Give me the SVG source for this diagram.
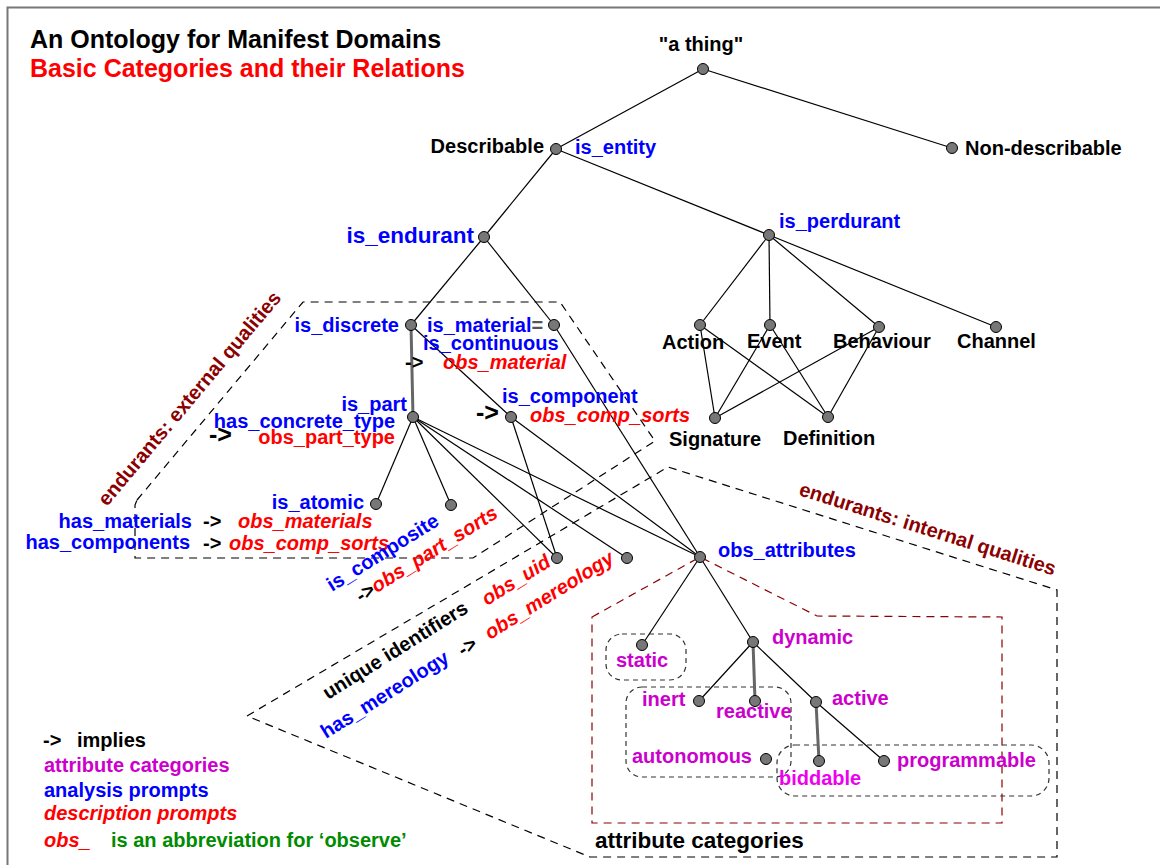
<svg xmlns="http://www.w3.org/2000/svg" width="1160" height="865" viewBox="0 0 1160 865">
<style>
text{font-family:"Liberation Sans",Arial,sans-serif;font-weight:bold;font-size:20px;fill:#000}
.b{fill:#0000ff}
.r{fill:#ff0000}
.ri{fill:#ff0000;font-style:italic}
.m{fill:#cc00cc}
.dr{fill:#8b0000}
.g{fill:#008b00}
.big{font-size:25px}
.arr{font-size:25px}
.e{stroke:#000;stroke-width:1.2;fill:none}
.t{stroke:#666;stroke-width:3;fill:none}
.n{fill:#777;stroke:#000;stroke-width:1}
.dp{fill:none;stroke:#000;stroke-width:1.2;stroke-dasharray:8,6}
.dpr{fill:none;stroke:#8b0000;stroke-width:1.2;stroke-dasharray:8,6}
.rb{fill:none;stroke:#333;stroke-width:1.2;stroke-dasharray:5,4}
</style>
<rect x="0" y="0" width="1160" height="865" fill="#fff"/>
<path d="M7.5,870 L7.5,7.5 L1170,7.5" fill="none" stroke="#777" stroke-width="2"/>

<g id="regions">
<path class="dp" d="M137,500 L303,302 L560,302 L655,441 L473,558 L135,558 L135,505 Z"/>
<path class="dp" d="M247,716 L668,467 L1057,590 L1057,857 L590,857 Z"/>
<path class="dpr" d="M592,617 L700,557 L817,616 L1002,617 L1002,823 L592,823 Z"/>
<rect class="rb" x="606" y="634" width="80" height="46" rx="16"/>
<rect class="rb" x="626" y="687" width="165" height="90" rx="16"/>
<rect class="rb" x="777" y="745" width="272" height="51" rx="18"/>
<text class="dr" transform="translate(107,507) rotate(-50)">endurants: external qualities</text>
<text class="dr" transform="translate(798,495) rotate(17.5)">endurants: internal qualities</text>
<text x="595" y="848" style="font-size:22.5px">attribute categories</text>
</g>

<g id="connectors">
<line class="e" x1="703" y1="69" x2="556" y2="149"/>
<line class="e" x1="703" y1="69" x2="952" y2="148"/>
<line class="e" x1="556" y1="149" x2="484" y2="237"/>
<line class="e" x1="556" y1="149" x2="769" y2="235"/>
<line class="e" x1="484" y1="237" x2="411" y2="325"/>
<line class="e" x1="484" y1="237" x2="554" y2="325"/>
<line class="e" x1="769" y1="235" x2="700" y2="325"/>
<line class="e" x1="769" y1="235" x2="770" y2="325"/>
<line class="e" x1="769" y1="235" x2="879" y2="327"/>
<line class="e" x1="769" y1="235" x2="996" y2="327"/>
<line class="e" x1="700" y1="325" x2="715" y2="418"/>
<line class="e" x1="700" y1="325" x2="828" y2="417"/>
<line class="e" x1="770" y1="325" x2="715" y2="418"/>
<line class="e" x1="770" y1="325" x2="828" y2="417"/>
<line class="e" x1="879" y1="327" x2="715" y2="418"/>
<line class="e" x1="879" y1="327" x2="828" y2="417"/>
<line class="t" x1="411" y1="325" x2="413" y2="417"/>
<line class="e" x1="411" y1="325" x2="511" y2="417"/>
<line class="e" x1="554" y1="325" x2="700" y2="557"/>
<line class="e" x1="413" y1="417" x2="376" y2="504"/>
<line class="e" x1="413" y1="417" x2="451" y2="505"/>
<line class="e" x1="413" y1="417" x2="557" y2="558"/>
<line class="e" x1="413" y1="417" x2="627" y2="558"/>
<line class="e" x1="413" y1="417" x2="700" y2="557"/>
<line class="e" x1="511" y1="417" x2="557" y2="558"/>
<line class="e" x1="511" y1="417" x2="700" y2="557"/>
<line class="e" x1="700" y1="557" x2="642" y2="645"/>
<line class="e" x1="700" y1="557" x2="753" y2="642"/>
<line class="e" x1="753" y1="642" x2="699" y2="701"/>
<line class="t" x1="753" y1="642" x2="755" y2="701"/>
<line class="e" x1="753" y1="642" x2="816" y2="702"/>
<line class="t" x1="816" y1="702" x2="819" y2="761"/>
<line class="e" x1="816" y1="702" x2="884" y2="761"/>
</g>

<g id="title">
<text class="big" x="30" y="48">An Ontology for Manifest Domains</text>
<text class="big r" x="30" y="77">Basic Categories and their Relations</text>
</g>

<g id="a_thing"><circle class="n" cx="703" cy="69" r="5.5"/><text x="701" y="51" text-anchor="middle">"a thing"</text></g>
<g id="describable"><circle class="n" cx="556" cy="149" r="5.5"/><text x="544" y="153" text-anchor="end">Describable</text><text class="b" x="575" y="154">is_entity</text></g>
<g id="non_describable"><circle class="n" cx="952" cy="148" r="5.5"/><text x="965" y="155">Non-describable</text></g>
<g id="is_endurant"><circle class="n" cx="484" cy="237" r="5.5"/><text class="b" x="474" y="243" text-anchor="end" style="font-size:22.5px">is_endurant</text></g>
<g id="is_perdurant"><circle class="n" cx="769" cy="235" r="5.5"/><text class="b" x="779" y="228">is_perdurant</text></g>
<g id="is_discrete"><circle class="n" cx="411" cy="325" r="5.5"/><text class="b" x="399" y="332" text-anchor="end">is_discrete</text></g>
<g id="is_material"><circle class="n" cx="554" cy="325" r="5.5"/><text class="b" x="427" y="332">is_material<tspan style="fill:#555">=</tspan></text><text class="b" x="423" y="350">is_continuous</text><text x="405" y="369">-&gt;</text><text class="ri" x="443" y="369">obs_material</text></g>
<g id="action"><circle class="n" cx="700" cy="325" r="5.5"/><text x="662" y="349">Action</text></g>
<g id="event"><circle class="n" cx="770" cy="325" r="5.5"/><text x="747" y="348">Event</text></g>
<g id="behaviour"><circle class="n" cx="879" cy="327" r="5.5"/><text x="833" y="348">Behaviour</text></g>
<g id="channel"><circle class="n" cx="996" cy="327" r="5.5"/><text x="957" y="348">Channel</text></g>
<g id="signature"><circle class="n" cx="715" cy="418" r="5.5"/><text x="669" y="446">Signature</text></g>
<g id="definition"><circle class="n" cx="828" cy="417" r="5.5"/><text x="783" y="445">Definition</text></g>
<g id="is_part"><circle class="n" cx="413" cy="417" r="5.5"/><text class="b" x="407" y="411" text-anchor="end">is_part</text><text class="b" x="395" y="428" text-anchor="end">has_concrete_type</text><text class="arr" x="209" y="443">-&gt;</text><text class="r" x="395" y="444" text-anchor="end">obs_part_type</text></g>
<g id="is_component"><circle class="n" cx="511" cy="417" r="5.5"/><text class="b" x="502" y="403">is_component</text><text class="arr" x="476" y="421">-&gt;</text><text class="ri" x="530" y="422">obs_comp_sorts</text></g>
<g id="is_atomic"><circle class="n" cx="376" cy="504" r="5.5"/><text class="b" x="364" y="509" text-anchor="end">is_atomic</text></g>
<g id="composite_materials"><text class="b" x="192" y="528" text-anchor="end">has_materials</text><text x="203" y="528">-&gt;</text><text class="ri" x="238" y="528">obs_materials</text><text class="b" x="190" y="549" text-anchor="end">has_components</text><text x="203" y="550">-&gt;</text><text class="ri" x="229" y="550">obs_comp_sorts</text></g>
<g id="is_composite"><circle class="n" cx="451" cy="505" r="5.5"/><text class="b" transform="translate(332,592) rotate(-32)">is_composite</text><text transform="translate(361,603) rotate(-32)">-&gt;<tspan class="ri">obs_part_sorts</tspan></text></g>
<g id="obs_uid"><circle class="n" cx="557" cy="558" r="5.5"/><text transform="translate(328,700) rotate(-32)">unique identifiers</text><text class="ri" transform="translate(487,606) rotate(-32)">obs_uid</text></g>
<g id="obs_mereology"><circle class="n" cx="627" cy="558" r="5.5"/><text class="b" transform="translate(326,739) rotate(-32)">has_mereology</text><text transform="translate(463,657) rotate(-32)">-&gt;</text><text class="ri" transform="translate(490,640) rotate(-32)">obs_mereology</text></g>
<g id="obs_attributes"><circle class="n" cx="700" cy="557" r="5.5"/><text class="b" x="718" y="557">obs_attributes</text></g>
<g id="static"><circle class="n" cx="642" cy="645" r="5.5"/><text class="m" x="616" y="667">static</text></g>
<g id="dynamic"><circle class="n" cx="753" cy="642" r="5.5"/><text class="m" x="772" y="644">dynamic</text></g>
<g id="inert"><circle class="n" cx="699" cy="701" r="5.5"/><text class="m" x="642" y="706">inert</text></g>
<g id="reactive"><circle class="n" cx="755" cy="701" r="5.5"/><text class="m" x="716" y="718">reactive</text></g>
<g id="active"><circle class="n" cx="816" cy="702" r="5.5"/><text class="m" x="832" y="705">active</text></g>
<g id="autonomous"><circle class="n" cx="766" cy="759" r="5.5"/><text class="m" x="632" y="763">autonomous</text></g>
<g id="biddable"><circle class="n" cx="819" cy="761" r="5.5"/><text x="779" y="785" style="fill:#ee00ee">biddable</text></g>
<g id="programmable"><circle class="n" cx="884" cy="761" r="5.5"/><text class="m" x="897" y="767">programmable</text></g>

<g id="legend">
<text x="43" y="747">-&gt;</text><text x="77" y="747">implies</text>
<text class="m" x="44" y="772">attribute categories</text>
<text class="b" x="44" y="797">analysis prompts</text>
<text class="ri" x="44" y="820">description prompts</text>
<text class="ri" x="44" y="847">obs_</text><text class="g" x="111" y="847">is an abbreviation for ‘observe’</text>
</g>
</svg>
